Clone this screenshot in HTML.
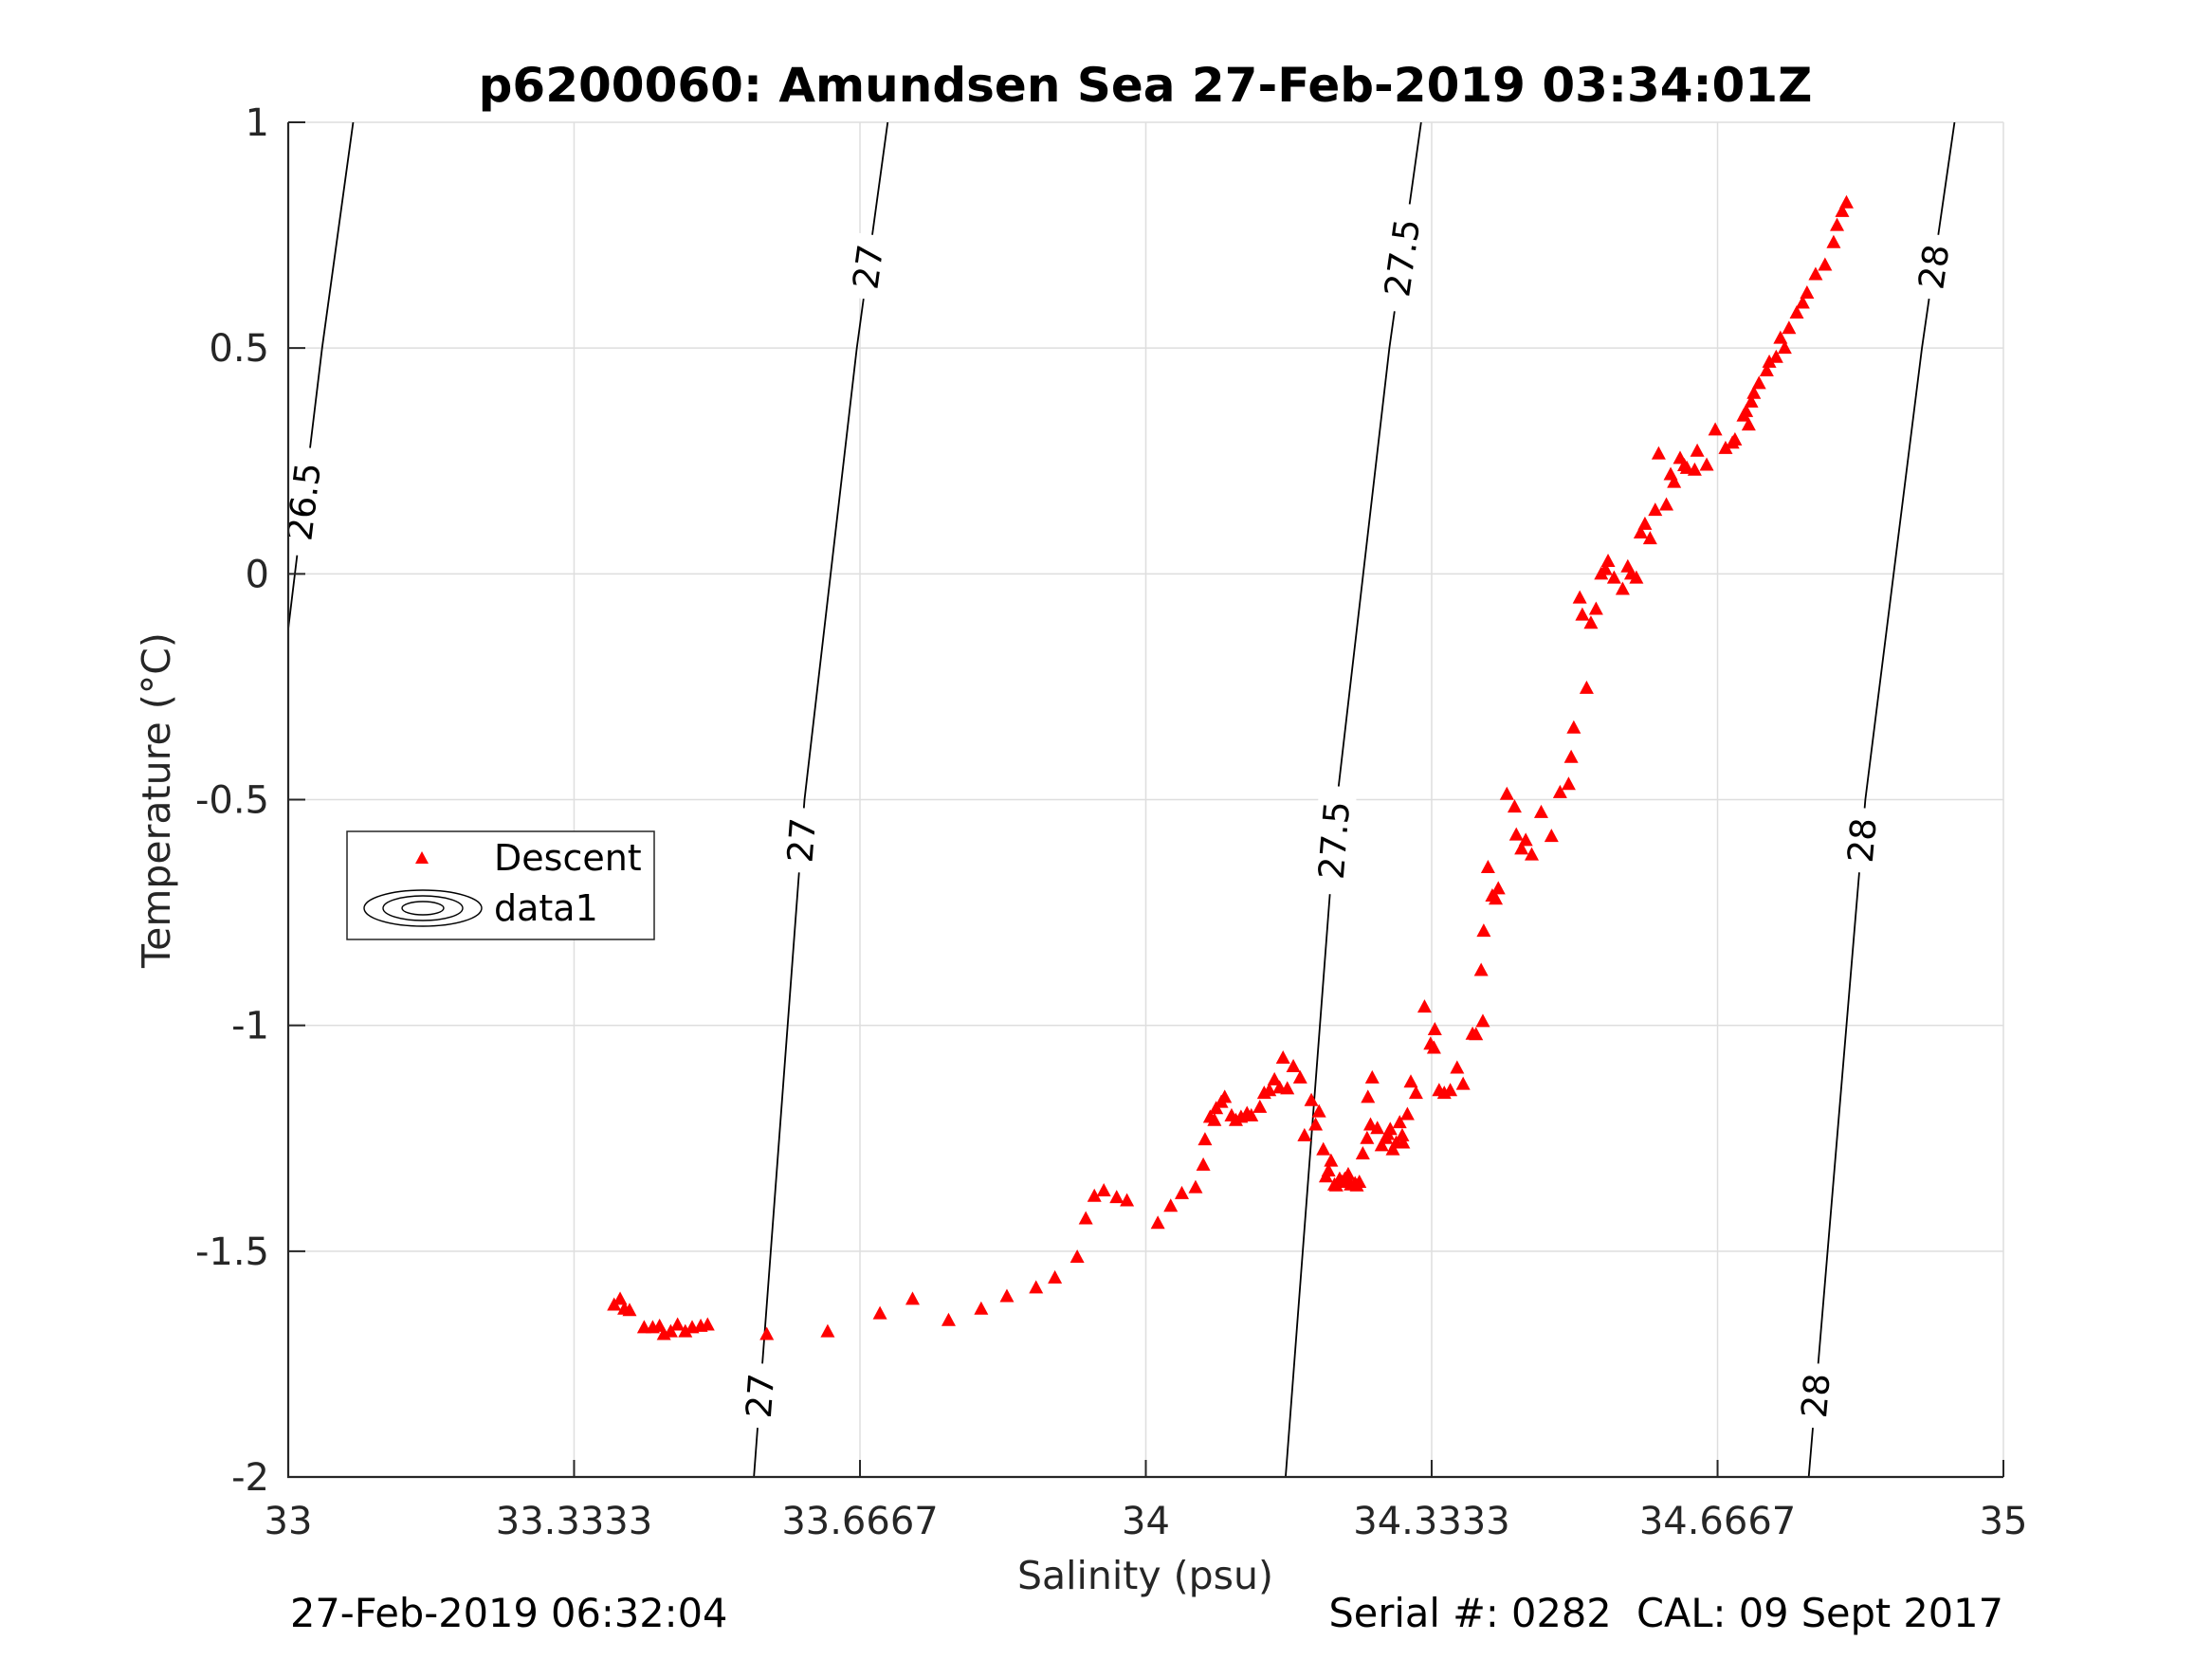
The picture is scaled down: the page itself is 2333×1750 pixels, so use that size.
<!DOCTYPE html>
<html><head><meta charset="utf-8"><style>
html,body{margin:0;padding:0;background:#fff;}
svg{display:block;font-family:"DejaVu Sans","Liberation Sans",sans-serif;}
</style></head><body>
<svg id="chart" width="2333" height="1750" viewBox="0 0 2333 1750" xmlns="http://www.w3.org/2000/svg">
<defs><clipPath id="plotclip"><rect x="304" y="129" width="1809" height="1429"/></clipPath></defs>
<rect x="0" y="0" width="2333" height="1750" fill="#fff"/>
<g id="grid"></g>
<g id="contours" clip-path="url(#plotclip)"></g>
<g id="points"></g>
<g id="axes"></g>
<text x="1208" y="107" text-anchor="middle" font-size="50" font-weight="bold" fill="#000">p6200060: Amundsen Sea 27-Feb-2019 03:34:01Z</text>
<text x="1208" y="1676" text-anchor="middle" font-size="41" fill="#262626">Salinity (psu)</text>
<text transform="translate(179,844) rotate(-90)" text-anchor="middle" font-size="41" fill="#262626">Temperature (°C)</text>
<text x="306" y="1716" font-size="41.5" fill="#000">27-Feb-2019 06:32:04</text>
<text x="2113" y="1716" text-anchor="end" font-size="41.5" fill="#000" xml:space="preserve">Serial #: 0282  CAL: 09 Sept 2017</text>
<g>
<rect x="366" y="877" width="324" height="114" fill="#fff" stroke="#262626" stroke-width="1.5"/>
<polygon points="445,898 452,911 438,911" fill="#f00"/>
<text x="521" y="918" font-size="38" fill="#000">Descent</text>
<g fill="none" stroke="#000" stroke-width="1.4">
<ellipse cx="446" cy="958" rx="62" ry="19"/><ellipse cx="446" cy="958" rx="42" ry="13"/><ellipse cx="446" cy="958" rx="22" ry="7"/></g>
<text x="521" y="971" font-size="38" fill="#000">data1</text>
</g>
</svg>
<script>
const xTicks=[33,33.3333,33.6667,34,34.3333,34.6667,35];
const xTickLabels=["33","33.3333","33.6667","34","34.3333","34.6667","35"];
const yTicks=[-2,-1.5,-1,-0.5,0,0.5,1];
const yTickLabels=["-2","-1.5","-1","-0.5","0","0.5","1"];
const salinity=[33.380,33.387,33.392,33.398,33.415,33.425,33.433,33.438,33.446,33.454,33.463,33.471,33.481,33.489,33.558,33.629,33.690,33.728,33.770,33.808,33.838,33.872,33.894,33.920,33.930,33.940,33.951,33.966,33.978,34.014,34.029,34.042,34.058,34.067,34.069,34.075,34.082,34.092,34.100,34.111,34.123,34.133,34.144,34.156,34.160,34.172,34.180,34.185,34.193,34.202,34.207,34.213,34.220,34.229,34.239,34.249,34.253,34.259,34.264,34.270,34.275,34.282,34.288,34.299,34.305,34.309,34.315,34.325,34.332,34.337,34.342,34.355,34.363,34.381,34.393,34.391,34.394,34.399,34.404,34.411,34.421,34.430,34.432,34.438,34.450,34.461,34.473,34.483,34.493,34.496,34.499,34.514,34.506,34.509,34.519,34.525,34.531,34.539,34.546,34.556,34.562,34.572,34.577,34.588,34.594,34.598,34.607,34.616,34.623,34.631,34.643,34.654,34.664,34.676,34.687,34.697,34.706,34.715,34.727,34.740,34.750,34.759,34.771,34.781,34.792,34.802,34.806,34.812,34.817,34.080,34.088,34.105,34.118,34.138,34.150,34.165,34.198,34.216,34.226,34.236,34.244,34.262,34.280,34.292,34.296,34.336,34.348,34.370,34.385,34.408,34.443,34.536,34.566,34.582,34.612,34.628,34.640,34.684,34.703,34.735,34.766,34.210,34.222,34.232,34.246,34.258,34.285,34.300,34.700,34.709,34.724,34.745];
const temperature=[-1.619,-1.606,-1.628,-1.631,-1.669,-1.669,-1.666,-1.684,-1.678,-1.663,-1.678,-1.669,-1.666,-1.663,-1.684,-1.678,-1.638,-1.606,-1.653,-1.628,-1.600,-1.581,-1.559,-1.513,-1.428,-1.378,-1.366,-1.381,-1.388,-1.438,-1.400,-1.372,-1.359,-1.309,-1.253,-1.203,-1.184,-1.159,-1.200,-1.203,-1.200,-1.181,-1.144,-1.138,-1.072,-1.091,-1.116,-1.244,-1.166,-1.191,-1.275,-1.322,-1.353,-1.347,-1.353,-1.347,-1.284,-1.159,-1.116,-1.228,-1.266,-1.241,-1.275,-1.244,-1.197,-1.125,-1.150,-0.959,-1.041,-1.009,-1.144,-1.144,-1.094,-1.019,-0.991,-0.878,-0.791,-0.650,-0.713,-0.697,-0.488,-0.516,-0.578,-0.609,-0.622,-0.528,-0.581,-0.484,-0.466,-0.406,-0.341,-0.253,-0.053,-0.091,-0.109,-0.078,0.000,0.028,-0.009,-0.034,0.016,-0.009,0.091,0.078,0.141,0.266,0.153,0.203,0.256,0.234,0.272,0.241,0.319,0.278,0.297,0.350,0.381,0.422,0.469,0.522,0.544,0.578,0.622,0.663,0.684,0.734,0.772,0.803,0.822,-1.210,-1.170,-1.210,-1.195,-1.150,-1.120,-1.140,-1.220,-1.300,-1.340,-1.330,-1.350,-1.220,-1.250,-1.260,-1.215,-1.050,-1.150,-1.130,-1.020,-0.720,-0.590,0.010,0.000,0.110,0.220,0.240,0.230,0.290,0.330,0.480,0.600,-1.335,-1.355,-1.340,-1.355,-1.250,-1.230,-1.260,0.360,0.400,0.450,0.500];
const contourLevels=["26.5","27","27.5","28"];
const contourTemps=[-2,-0.5,0.5,1];
const contourSal=[[32.87,32.976,33.0395,33.0757],[33.543,33.602,33.663,33.699],[34.163,34.223,34.284,34.321],[34.773,34.839,34.905,34.943]];
const labelLevelIdx=[0,1,1,1,2,2,3,3,3];
const labelTemps=[0.16,0.68,-0.59,-1.82,0.70,-0.59,0.68,-0.59,-1.82];

const X0=304,X1=2113,Y0=1558,Y1=129;
const sx=s=>X0+(s-33)/(35-33)*(X1-X0);
const sy=t=>Y0-(t+2)/(1+2)*(Y0-Y1);
const NS="http://www.w3.org/2000/svg";
function mk(tag,attrs,parent){const e=document.createElementNS(NS,tag);for(const k in attrs)e.setAttribute(k,attrs[k]);parent.appendChild(e);return e;}

const grid=document.getElementById('grid');
xTicks.forEach((v,i)=>{const l=mk('line',{x1:sx(v),x2:sx(v),y1:Y1,y2:Y0,stroke:'#dedede','stroke-width':1.5},grid);

});
yTicks.forEach((v,i)=>{const l=mk('line',{x1:X0,x2:X1,y1:sy(v),y2:sy(v),stroke:'#dedede','stroke-width':1.5},grid);

});

function interpS(ci,t){const T=contourTemps,S=contourSal[ci];
let k=0;while(k<T.length-2&&t>T[k+1])k++;
const f=(t-T[k])/(T[k+1]-T[k]);return S[k]+f*(S[k+1]-S[k]);}
const cg=document.getElementById('contours');
contourSal.forEach((arr,ci)=>{const pts=arr.map((s,j)=>sx(s)+','+sy(contourTemps[j])).join(' ');
const p=mk('polyline',{points:pts,fill:'none',stroke:'#000','stroke-width':1.8},cg);

});
labelTemps.forEach((t,i)=>{const ci=labelLevelIdx[i];const s=interpS(ci,t);
const x=sx(s),y=sy(t);const x2=sx(interpS(ci,t+0.1)),y2=sy(t+0.1);
const ang=Math.atan2(y2-y,x2-x)*180/Math.PI;
const g=mk('g',{transform:`translate(${x},${y}) rotate(${ang})`},cg);


const w=contourLevels[ci].length*23+22;
mk('rect',{x:-w/2,y:-20,width:w,height:40,fill:'#fff'},g);
mk('text',{x:0,y:13,'text-anchor':'middle','font-size':37,fill:'#000'},g).textContent=contourLevels[ci];});

const pg=document.getElementById('points');
salinity.forEach((s,i)=>{const x=sx(s),y=sy(temperature[i]);
const p=mk('polygon',{points:`${x},${y-8} ${x+7.5},${y+6} ${x-7.5},${y+6}`,fill:'#f00'},pg);

});

const ax=document.getElementById('axes');
mk('path',{d:`M${X0},${Y1} L${X0},${Y0} L${X1},${Y0}`,fill:'none',stroke:'#262626','stroke-width':2.2},ax);
xTicks.forEach((v,i)=>{mk('line',{x1:sx(v),x2:sx(v),y1:Y0,y2:Y0-18,stroke:'#262626','stroke-width':2},ax);
const t=mk('text',{x:sx(v),y:1618,'text-anchor':'middle','font-size':40,fill:'#262626'},ax);t.textContent=xTickLabels[i];

});
yTicks.forEach((v,i)=>{mk('line',{x1:X0,x2:X0+18,y1:sy(v),y2:sy(v),stroke:'#262626','stroke-width':2},ax);
const t=mk('text',{x:284,y:sy(v)+14,'text-anchor':'end','font-size':40,fill:'#262626'},ax);t.textContent=yTickLabels[i];

});
</script>
</body></html>
